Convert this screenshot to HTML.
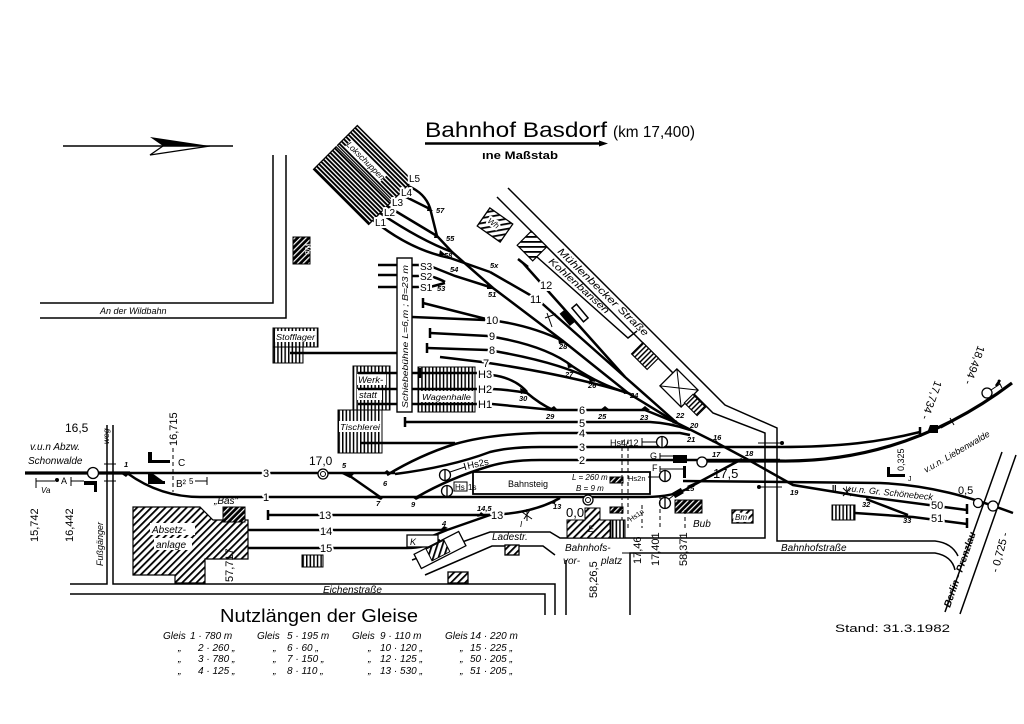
<!DOCTYPE html>
<html><head><meta charset="utf-8"><style>
html,body{margin:0;padding:0;background:#fff}
svg{display:block}
.t{stroke:#000;stroke-width:2.5;fill:none}
.tk{stroke:#000;stroke-width:3.2;fill:none}
.r{stroke:#000;stroke-width:1.5;fill:none}
.th{stroke:#000;stroke-width:1;fill:none}
text{font-family:"Liberation Sans",sans-serif;fill:#000}
.i{font-style:italic}
.lb{paint-order:stroke;stroke:#fff;stroke-width:4px;stroke-linejoin:round}
.sw{font-size:7.5px;font-weight:bold;font-style:italic}
</style></head><body>
<svg width="1024" height="724" viewBox="0 0 1024 724" xmlns="http://www.w3.org/2000/svg">
<defs>
<pattern id="h" width="5" height="5" patternUnits="userSpaceOnUse" patternTransform="rotate(45)"><rect width="5" height="5" fill="#fff"/><rect width="1.8" height="5" fill="#000"/></pattern>
<pattern id="dh" width="4" height="4" patternUnits="userSpaceOnUse" patternTransform="rotate(45)"><rect width="4" height="4" fill="#000"/><rect width="1.2" height="4" fill="#fff"/></pattern>
<pattern id="v" width="3.6" height="4" patternUnits="userSpaceOnUse"><rect width="3.6" height="4" fill="#fff"/><rect width="1.5" height="4" fill="#000"/></pattern>
<pattern id="hs" width="4" height="3.2" patternUnits="userSpaceOnUse"><rect width="4" height="3.2" fill="#fff"/><rect width="4" height="1.9" fill="#000"/></pattern>
</defs>
<rect width="1024" height="724" fill="#fff"/>

<!-- north arrow -->
<line x1="63" y1="146" x2="233" y2="146" stroke="#000" stroke-width="1.5"/>
<polygon points="150,137 210,146 163,146" fill="#000"/>
<polyline points="163,146 150,155 210,146" fill="none" stroke="#000" stroke-width="1.3"/>

<!-- title -->
<text x="425" y="137" font-size="21" textLength="182" lengthAdjust="spacingAndGlyphs">Bahnhof  Basdorf</text>
<text x="613" y="137" font-size="16" textLength="82" lengthAdjust="spacingAndGlyphs">(km 17,400)</text>
<line x1="425" y1="143.5" x2="603" y2="143.5" stroke="#000" stroke-width="2.4"/>
<polygon points="599,140.5 608,143.5 599,146.5" fill="#000"/>
<text x="482" y="159" font-size="11" font-weight="bold" textLength="76" lengthAdjust="spacingAndGlyphs">ıne Maßstab</text>

<!-- An der Wildbahn -->
<path class="r" d="M40,303 H273 V155 M40,318 H286 V155"/>
<text x="100" y="314" font-size="9" class="i">An der Wildbahn</text>
<rect x="293" y="237" width="17" height="27" fill="url(#dh)" stroke="#000"/>
<text transform="translate(305,243) rotate(90)" font-size="8" class="i" style="fill:#fff">Wc</text>

<!-- Lokschuppen -->
<g transform="translate(363,175) rotate(45)">
<rect x="-39" y="-31" width="78" height="28" fill="url(#hs)" stroke="#000" stroke-width="1.2"/>
<rect x="-39" y="-1" width="78" height="32" fill="url(#hs)" stroke="#000" stroke-width="1.2"/>
<rect x="-33" y="-17" width="50" height="10" fill="#fff"/>
<text x="-8" y="-9" font-size="8.5" class="i" text-anchor="middle">Lokschuppen</text>
</g>
<path class="t" d="M408,186 Q425,193 430,208 L437,236 M400,194 L430,209 M387,206 L437,236 M380,213 Q420,240 452,252 M373,220 Q410,250 450,258 L490,272"/>
<text x="409" y="182" font-size="10" class="lb">L5</text>
<text x="401" y="196" font-size="10" class="lb">L4</text>
<text x="392" y="206" font-size="10" class="lb">L3</text>
<text x="384" y="216" font-size="10" class="lb">L2</text>
<text x="375" y="226" font-size="10" class="lb">L1</text>

<!-- Wh, Kohlenbansen, road -->
<g transform="translate(495,225) rotate(35)"><rect x="-14" y="-11" width="28" height="22" fill="url(#h)" stroke="#000" stroke-width="1.3"/></g>
<text transform="translate(487,222) rotate(35)" font-size="8" class="i lb">Wh</text>
<path class="r" d="M508,188 L725,405 L777,428 L777,541 L935,541 Q952,543 958,556"/>
<path class="r" d="M497,197 L713,413 L765,433 L765,538 L560,538 L550,532 L490,532 L412,560"/>
<g transform="translate(532,246) rotate(45)"><rect x="-11" y="-10" width="22" height="20" fill="url(#h)" stroke="#000" stroke-width="1.2"/></g>
<path class="r" d="M537,257 L628,338 L637,331"/>
<text transform="translate(557,252) rotate(44)" font-size="10" class="i" textLength="122" lengthAdjust="spacingAndGlyphs">Mühlenbecker  Straße</text>
<text transform="translate(548,262) rotate(42)" font-size="9.5" class="i" textLength="78" lengthAdjust="spacingAndGlyphs">Kohlenbansen</text>
<g transform="translate(645,356) rotate(45)"><rect x="-11" y="-8" width="22" height="16" fill="url(#v)" stroke="#000" stroke-width="1.2"/></g>
<g transform="translate(679,388) rotate(45)"><rect x="-15" y="-12" width="30" height="24" fill="#fff" stroke="#000" stroke-width="1.3"/><path class="th" d="M-15,-12 L15,12 M15,-12 L-15,12"/></g>
<g transform="translate(695,405) rotate(45)"><rect x="-9" y="-6" width="18" height="12" fill="url(#v)" stroke="#000" stroke-width="1.1"/></g>

<!-- Schiebebühne & buildings -->
<rect x="273" y="328" width="45" height="19" fill="url(#v)" stroke="#000"/>
<rect x="273" y="347" width="30" height="16" fill="url(#v)" stroke="#000"/>
<rect x="275" y="331" width="41" height="11" fill="#fff"/>
<text x="276" y="340" font-size="8.5" class="i" textLength="39" lengthAdjust="spacingAndGlyphs">Stofflager</text>
<rect x="353" y="366" width="37" height="44" fill="url(#v)" stroke="#000"/>
<rect x="357" y="374" width="29" height="11" fill="#fff"/>
<rect x="357" y="389" width="25" height="11" fill="#fff"/>
<text x="358" y="383" font-size="9.5" class="i">Werk-</text>
<text x="359" y="398" font-size="9.5" class="i">statt</text>
<rect x="418" y="367" width="57" height="45" fill="url(#v)" stroke="#000"/>
<rect x="421" y="391" width="52" height="11" fill="#fff"/>
<text x="422" y="400" font-size="8.5" class="i" textLength="49" lengthAdjust="spacingAndGlyphs">Wagenhalle</text>
<rect x="338" y="410" width="44" height="43" fill="url(#v)" stroke="#000"/>
<rect x="339" y="421" width="42" height="11" fill="#fff"/>
<text x="340" y="430" font-size="8.5" class="i" textLength="40" lengthAdjust="spacingAndGlyphs">Tischlerei</text>
<rect x="397" y="258" width="15" height="154" fill="#fff" stroke="#000" stroke-width="1.4"/>
<text transform="translate(408,408) rotate(-90)" font-size="8.5" class="i" textLength="143" lengthAdjust="spacingAndGlyphs">Schiebebühne  L=6,m ; B=23 m</text>

<!-- fan tracks -->
<path class="t" d="M378,265 H397 M378,275 H397 M378,287 H397 M290,353 H397 M358,373 H397 M358,389 H397 M358,404 H397"/>
<path class="t" d="M412,265 H422 M412,276 H422 M412,287 H422 M430,266 L455,276 L493,288 M430,276 Q440,279 445,282 M430,287 L445,283"/>
<text x="420" y="270" font-size="10" class="lb">S3</text>
<text x="420" y="280" font-size="10" class="lb">S2</text>
<text x="420" y="291" font-size="10" class="lb">S1</text>
<path class="t" d="M437,236 L452,252 L493,288 L563,341 L628,393 L677,423 L717,443 L745,458 L793,485 L860,496 L967,510"/>
<path class="t" d="M490,272 L537,299 L625,377 L677,423"/>
<path class="t" d="M523,263 L625,377 M518,259 L528,267"/>
<path class="t" d="M423,303 L490,320 Q530,325 563,341 M412,317 L485,320"/>
<path class="t" d="M430,333 L488,336 Q545,345 572,366 Q600,385 628,393"/>
<path class="t" d="M427,348 L488,350 Q560,362 595,381"/>
<path class="t" d="M440,357 L482,362 Q570,375 628,393"/>
<path class="t" d="M412,373 H478 M492,375 Q515,378 527,392 M412,389 H478 M492,389 Q512,390 527,393 Q540,404 553,410 M412,404 H478 M492,404 L553,410"/>
<path class="t" d="M553,410 H645 L677,423"/>
<path class="t" d="M405,422 H650 Q670,423 690,430"/>
<path class="t" d="M423,298 V308 M430,328 V338 M427,343 V353 M405,417 V427 M420,368 V378"/>
<g transform="translate(567,318) rotate(50)"><rect x="-8" y="-3" width="16" height="6" fill="#000"/></g>
<g transform="translate(580,313) rotate(50)"><rect x="-9" y="-3" width="18" height="6" fill="#fff" stroke="#000" stroke-width="1.5"/></g>
<path class="th" d="M547,313 L552,327 M545,318 L556,314"/>
<text x="530" y="303" font-size="11" class="lb">11</text>
<text x="540" y="289" font-size="11" class="lb">12</text>
<text x="486" y="324" font-size="11" class="lb">10</text>
<text x="489" y="340" font-size="11" class="lb">9</text>
<text x="489" y="354" font-size="11" class="lb">8</text>
<text x="483" y="367" font-size="11" class="lb">7</text>
<text x="478" y="378" font-size="11" class="lb">H3</text>
<text x="478" y="393" font-size="11" class="lb">H2</text>
<text x="478" y="408" font-size="11" class="lb">H1</text>
<text x="579" y="414" font-size="11" class="lb">6</text>
<text x="579" y="427" font-size="11" class="lb">5</text>

<!-- main tracks -->
<path class="t" d="M387,475 Q420,455 455,444 Q490,434 540,433 H680 L690,435"/>
<path class="t" d="M360,443 H455"/>
<path class="t" d="M395,474 Q450,467 490,452 Q510,447 540,447 H780 C840,447 880,442 920,432"/>
<path class="t" d="M417,497 Q450,478 490,466 Q510,460 540,460 H780"/>
<path class="tk" d="M700,461 H780 C850,462 930,445 1012,383"/>
<path class="tk" d="M25,473 H130"/>
<path class="t" d="M130,473 H395"/>
<path class="t" d="M127,473 Q160,497 200,497 H645 Q675,497 690,487 L742,459"/>
<path class="t" d="M347,474 L380,497"/>
<path class="t" d="M268,515 H483 Q530,515 560,498 M268,510 V520"/>
<path class="t" d="M490,515 L447,530 L420,541"/>
<path class="t" d="M213,530 H447 M213,548 H407 Q425,548 440,540"/>
<path class="t" d="M683,481 L880,483 C930,485 970,497 1013,513"/>
<path class="t" d="M855,513 L913,517 L967,524 M866,499 L908,515 M967,504 V514 M967,518 V528"/>
<path class="t" d="M920,427 V437 M1000,380 L996,386"/>
<text x="579" y="437" font-size="11" class="lb">4</text>
<text x="579" y="451" font-size="11" class="lb">3</text>
<text x="579" y="464" font-size="11" class="lb">2</text>
<text x="263" y="477" font-size="11" class="lb">3</text>
<text x="263" y="501" font-size="11" class="lb">1</text>
<text x="319" y="519" font-size="11" class="lb">13</text>
<text x="320" y="535" font-size="11" class="lb">14</text>
<text x="320" y="552" font-size="11" class="lb">15</text>
<text x="491" y="519" font-size="11" class="lb">13</text>
<text x="931" y="509" font-size="11" class="lb">50</text>
<text x="931" y="522" font-size="11" class="lb">51</text>

<!-- switch numbers -->
<g class="sw">
<text x="124" y="467">1</text><text x="342" y="468">5</text><text x="383" y="486">6</text><text x="376" y="506">7</text><text x="411" y="507">9</text>
<text x="442" y="526">4</text><text x="477" y="511">14,5</text><text x="553" y="509">13</text><text x="686" y="491">15</text>
<text x="712" y="457">17</text><text x="713" y="440">16</text><text x="745" y="456">18</text><text x="790" y="495">19</text>
<text x="690" y="428">20</text><text x="687" y="442">21</text><text x="676" y="418">22</text><text x="640" y="420">23</text>
<text x="630" y="398">24</text><text x="598" y="419">25</text><text x="588" y="388">26</text><text x="565" y="377">27</text>
<text x="559" y="349">28</text><text x="546" y="419">29</text><text x="519" y="401">30</text><text x="488" y="297">51</text>
<text x="437" y="291">53</text><text x="450" y="272">54</text><text x="490" y="268">5x</text><text x="446" y="241">55</text>
<text x="436" y="213">57</text><text x="444" y="258">58</text><text x="862" y="507">32</text><text x="903" y="523">33</text>
</g>
<path fill="#000" d="M342,474 l12,0 l-4,4z M382,474 l10,0 l-5,-4z M374,497 l10,0 l-3,3z M412,497 l10,0 l-6,3z M120,473 l10,0 l-4,4z M548,410 l10,0 l-4,-4z M600,410 l10,0 l-5,-4z M640,410 l10,0 l-5,-4z M672,423 l10,3 l-6,-6z M712,442 l9,3 l-5,-5z M558,338 l8,5 l-7,1z M567,362 l8,5 l-7,1z M588,377 l9,4 l-7,1z M622,389 l9,4 l-7,1z M520,388 l8,4 l-7,2z M435,233 l5,5 l-6,0z M428,206 l5,5 l-6,0z M440,250 l6,5 l-7,0z M487,284 l7,5 l-7,0z M448,528 l-9,3 l5,-5z M485,515 l-8,2 l4,-5z M548,503 l8,-4 l-1,5z M687,486 l9,-4 l-2,5z"/>

<!-- Bahnsteig -->
<rect x="473" y="472" width="177" height="22" fill="#fff" stroke="#000" stroke-width="1.8"/>
<text x="508" y="487" font-size="9">Bahnsteig</text>
<text x="572" y="480" font-size="8" class="i">L = 260 m</text>
<text x="576" y="491" font-size="8" class="i">B =  9 m</text>
<rect x="610" y="477" width="13" height="6" fill="url(#dh)" stroke="#000"/>
<rect x="610" y="507" width="13" height="6" fill="url(#dh)" stroke="#000"/>
<path class="th" d="M622,440 V530 M628,440 V530" stroke-dasharray="4,3"/>
<circle cx="588" cy="500" r="5" fill="#fff" stroke="#000" stroke-width="1.3"/><circle cx="588" cy="500" r="2.5" fill="none" stroke="#000"/>
<text x="566" y="517" font-size="13">0,0</text>
<polygon points="585,508 600,508 600,520 610,520 610,538 567,538 567,520 585,520" fill="url(#h)" stroke="#000"/>
<text x="588" y="532" font-size="9" class="i">E</text>
<rect x="611" y="520" width="14" height="18" fill="url(#v)" stroke="#000"/>

<!-- signals middle -->
<circle cx="445" cy="475" r="5.5" fill="#fff" stroke="#000" stroke-width="1.3"/><line x1="445" y1="470" x2="445" y2="480" stroke="#000" stroke-width="1.3"/>
<path class="th" d="M450,472 L465,467 M464,463 L466,470"/>
<text transform="translate(468,469) rotate(-12)" font-size="9.5">Hs2s</text>
<circle cx="447" cy="491" r="5.5" fill="#fff" stroke="#000" stroke-width="1.3"/><line x1="447" y1="486" x2="447" y2="496" stroke="#000" stroke-width="1.3"/>
<rect x="454" y="482" width="13" height="9" fill="#fff" stroke="#000"/>
<text x="455" y="490" font-size="8">Hs</text><text x="468" y="490" font-size="8">1s</text>
<text x="610" y="446" font-size="9">Hs4/12</text>
<path class="th" d="M642,438 V446 M642,442 H657" stroke-width="1.3"/>
<circle cx="662" cy="442" r="5.5" fill="#fff" stroke="#000" stroke-width="1.3"/><line x1="662" y1="437" x2="662" y2="447" stroke="#000" stroke-width="1.3"/>
<text x="650" y="459" font-size="9">G</text>
<path class="th" d="M660,453 V460 M660,456 H673" stroke-width="1.3"/>
<rect x="673" y="455" width="14" height="8" fill="#000"/>
<circle cx="702" cy="462" r="5" fill="#fff" stroke="#000" stroke-width="1.3"/>
<text x="652" y="471" font-size="9">F</text>
<path class="th" d="M660,466 V472 M660,469 H683" stroke-width="1.3"/>
<rect x="683" y="466" width="3" height="12" fill="#000"/>
<text x="628" y="481" font-size="7.5">Hs2n</text>
<path class="th" d="M648,477 H660" stroke-width="1.3"/>
<circle cx="665" cy="476" r="5.5" fill="#fff" stroke="#000" stroke-width="1.3"/><line x1="665" y1="471" x2="665" y2="481" stroke="#000" stroke-width="1.3"/>
<text x="713" y="478" font-size="13">17,5</text>
<circle cx="665" cy="503" r="5.5" fill="#fff" stroke="#000" stroke-width="1.3"/><line x1="665" y1="498" x2="665" y2="508" stroke="#000" stroke-width="1.3"/>
<path class="th" d="M669,499 L678,492" stroke-width="1.3"/>
<g transform="translate(678,493) rotate(-30)"><rect x="-5" y="-3" width="10" height="6" fill="#000"/></g>
<text transform="translate(631,522) rotate(-35)" font-size="7">Hs1n</text>
<rect x="675" y="500" width="27" height="13" fill="url(#dh)" stroke="#000"/>
<text x="693" y="527" font-size="10" class="i">Bub</text>
<rect x="732" y="510" width="21" height="13" fill="url(#h)" stroke="#000" stroke-width="1.3"/>
<text x="735" y="520" font-size="8" class="i lb">Bm</text>
<path class="th" d="M642,505 V528 M660,495 V528 M685,510 V528" stroke-dasharray="4,3"/>
<text transform="translate(641,564) rotate(-90)" font-size="11">17,46</text>
<text transform="translate(659,566) rotate(-90)" font-size="11">17,401</text>
<text transform="translate(687,566) rotate(-90)" font-size="11">58,371</text>
<path class="th" d="M622,553 H690" stroke-width="1"/>

<!-- track 13 marker and ramp -->
<path class="th" d="M527,509 V521 M522,512 L532,519 M524,519 L530,510" stroke-width="1.5"/>
<text x="520" y="527" font-size="8" class="i">I</text>
<rect x="407" y="535" width="31" height="12" fill="#fff" stroke="#000" stroke-width="1.3"/>
<text x="410" y="545" font-size="9" class="i">K</text>
<g transform="translate(440,550) rotate(-27)"><rect x="-25" y="-8" width="50" height="16" fill="#fff" stroke="#000" stroke-width="1.3"/><rect x="-12" y="-7" width="20" height="13" fill="url(#h)" stroke="#000"/></g>

<!-- bottom roads -->
<path class="r" d="M70,584 H107 V425 M113,425 V584 H555 V615 M70,594 H545 V615 M566,560 V615 M630,615 V553 H935 Q952,556 955,570"/>
<path class="r" d="M425,575 L492,546 L543,546 L555,555"/>
<path class="th" d="M104,464 H116 M104,481 H116" stroke-width="1.3"/>
<text x="492" y="540" font-size="10" class="i">Ladestr.</text>
<text x="565" y="551" font-size="10" class="i">Bahnhofs-</text>
<text x="563" y="564" font-size="10" class="i">vor-</text>
<text x="601" y="564" font-size="10" class="i">platz</text>
<text transform="translate(597,598) rotate(-90)" font-size="11">58,26,5</text>
<text x="323" y="593" font-size="10" class="i">Eichenstraße</text>
<text x="781" y="551" font-size="10" class="i">Bahnhofstraße</text>
<rect x="302" y="555" width="21" height="12" fill="url(#v)" stroke="#000"/>
<rect x="448" y="572" width="20" height="11" fill="url(#h)" stroke="#000" stroke-width="1.3"/>
<rect x="505" y="545" width="14" height="10" fill="url(#h)" stroke="#000" stroke-width="1.3"/>

<!-- left area -->
<polygon points="133,507 200,507 213,520 248,520 248,559 205,559 205,583 175,583 175,575 133,575" fill="url(#h)" stroke="#000" stroke-width="1.2"/>
<rect x="150" y="523" width="45" height="12" fill="#fff"/>
<rect x="154" y="538" width="38" height="12" fill="#fff"/>
<text x="152" y="533" font-size="10" class="i">Absetz-</text>
<text x="156" y="548" font-size="10" class="i">anlage</text>
<text x="214" y="504" font-size="10" class="i">„Bas"</text>
<rect x="223" y="507" width="22" height="15" fill="url(#dh)" stroke="#000"/>
<text transform="translate(233,582) rotate(-90)" font-size="11">57,717</text>
<circle cx="93" cy="473" r="5.5" fill="#fff" stroke="#000" stroke-width="1.3"/>
<text x="65" y="432" font-size="12">16,5</text>
<text transform="translate(109,444) rotate(-90)" font-size="8.5" class="i">weg</text>
<text x="30" y="450" font-size="10" class="i">v.u.n  Abzw.</text>
<text x="28" y="464" font-size="10" class="i">Schonwalde</text>
<path class="th" d="M36,478 V488 M36,481 H55" stroke-width="1.3"/>
<text x="41" y="493" font-size="8" class="i">Va</text>
<circle cx="57" cy="480" r="2" fill="#000"/>
<text x="61" y="484" font-size="9">A</text>
<path class="th" d="M71,477 V486 M71,481 H84" stroke-width="1.3"/>
<path d="M84,481 H97 V492 H94 V485 H84 Z" fill="#000"/>
<text transform="translate(38,542) rotate(-90)" font-size="11">15,742</text>
<text transform="translate(73,542) rotate(-90)" font-size="11">16,442</text>
<text transform="translate(103,566) rotate(-90)" font-size="9" class="i">Fußgänger</text>
<text transform="translate(177,446) rotate(-90)" font-size="11">16,715</text>
<path class="th" d="M173,448 V492" stroke-dasharray="4,3"/>
<path d="M148,452 H152 V460 H170 V463 H148 Z" fill="#000"/>
<text x="178" y="466" font-size="10">C</text>
<path d="M148,473 H152 L163,481 H165 V484 H148 Z" fill="#000"/>
<text x="176" y="487" font-size="10">B²</text>
<text x="189" y="484" font-size="8">5</text>
<path class="th" d="M195,481 H207 M207,477 V485" stroke-width="1.2"/>
<circle cx="323" cy="474" r="5" fill="#fff" stroke="#000" stroke-width="1.3"/><circle cx="323" cy="474" r="2.5" fill="none" stroke="#000"/>
<text x="309" y="465" font-size="12">17,0</text>

<!-- right area -->
<path class="r" d="M1002,452 L945,612 M1016,455 L960,614"/>
<text transform="translate(950,608) rotate(-71)" font-size="10" class="i" font-weight="bold">Berlin - Prenzlau</text>
<text transform="translate(998,573) rotate(-75)" font-size="11">- 0,725 -</text>
<circle cx="978" cy="503" r="4.5" fill="#fff" stroke="#000" stroke-width="1.3"/>
<circle cx="993" cy="506" r="5" fill="#fff" stroke="#000" stroke-width="1.3"/>
<text x="958" y="494" font-size="11">0,5</text>
<circle cx="987" cy="393" r="5" fill="#fff" stroke="#000" stroke-width="1.3"/>
<path class="th" d="M991,390 L1000,384 M998,380 L1002,388" stroke-width="1.3"/>
<path d="M927,433 L930,425 H938 V433 Z" fill="#000"/>
<path class="th" d="M941,428 L952,422 M950,418 L954,425" stroke-width="1.3"/>
<text transform="translate(935,380) rotate(110)" font-size="11">17,734 -</text>
<text transform="translate(978,345) rotate(110)" font-size="11">18,494 -</text>
<text transform="translate(926,473) rotate(-30)" font-size="9" class="i">v.u.n. Liebenwalde</text>
<text transform="translate(904,471) rotate(-90)" font-size="9">0,325</text>
<path d="M887,467 H890 V474 H905 V477 H887 Z" fill="#000"/>
<text x="908" y="481" font-size="7">J</text>
<text transform="translate(845,491) rotate(6)" font-size="9" class="i">v.u.n. Gr. Schönebeck</text>
<text x="832" y="491" font-size="8" font-weight="bold">II</text>
<path class="th" d="M843,488 L851,496 M851,488 L843,496" stroke-width="1.6"/>
<rect x="832" y="505" width="23" height="15" fill="url(#v)" stroke="#000"/>
<path class="th" d="M758,443 H782 M758,487 H782" stroke-width="1.3"/>
<circle cx="782" cy="443" r="2" fill="#000"/><circle cx="759" cy="487" r="2" fill="#000"/>

<!-- Nutzlängen table -->
<text x="220" y="622" font-size="18" textLength="198" lengthAdjust="spacingAndGlyphs">Nutzlängen der Gleise</text>
<g font-size="10" style="font-style:italic">
<text x="163" y="639">Gleis</text><text x="190" y="639">1 · 780 m</text>
<text x="257" y="639">Gleis</text><text x="287" y="639">5 · 195 m</text>
<text x="352" y="639">Gleis</text><text x="380" y="639">9 · 110 m</text>
<text x="445" y="639">Gleis</text><text x="470" y="639">14 · 220 m</text>
<text x="178" y="651">„</text><text x="198" y="651">2 · 260 „</text>
<text x="273" y="651">„</text><text x="287" y="651">6 ·  60 „</text>
<text x="368" y="651">„</text><text x="380" y="651">10 · 120 „</text>
<text x="460" y="651">„</text><text x="470" y="651">15 · 225 „</text>
<text x="178" y="662">„</text><text x="198" y="662">3 · 780 „</text>
<text x="273" y="662">„</text><text x="287" y="662">7 · 150 „</text>
<text x="368" y="662">„</text><text x="380" y="662">12 · 125 „</text>
<text x="460" y="662">„</text><text x="470" y="662">50 · 205 „</text>
<text x="178" y="674">„</text><text x="198" y="674">4 · 125 „</text>
<text x="273" y="674">„</text><text x="287" y="674">8 · 110 „</text>
<text x="368" y="674">„</text><text x="380" y="674">13 · 530 „</text>
<text x="460" y="674">„</text><text x="470" y="674">51 · 205 „</text>
</g>
<text x="835" y="632" font-size="11" textLength="115" lengthAdjust="spacingAndGlyphs">Stand: 31.3.1982</text>
</svg>
</body></html>
